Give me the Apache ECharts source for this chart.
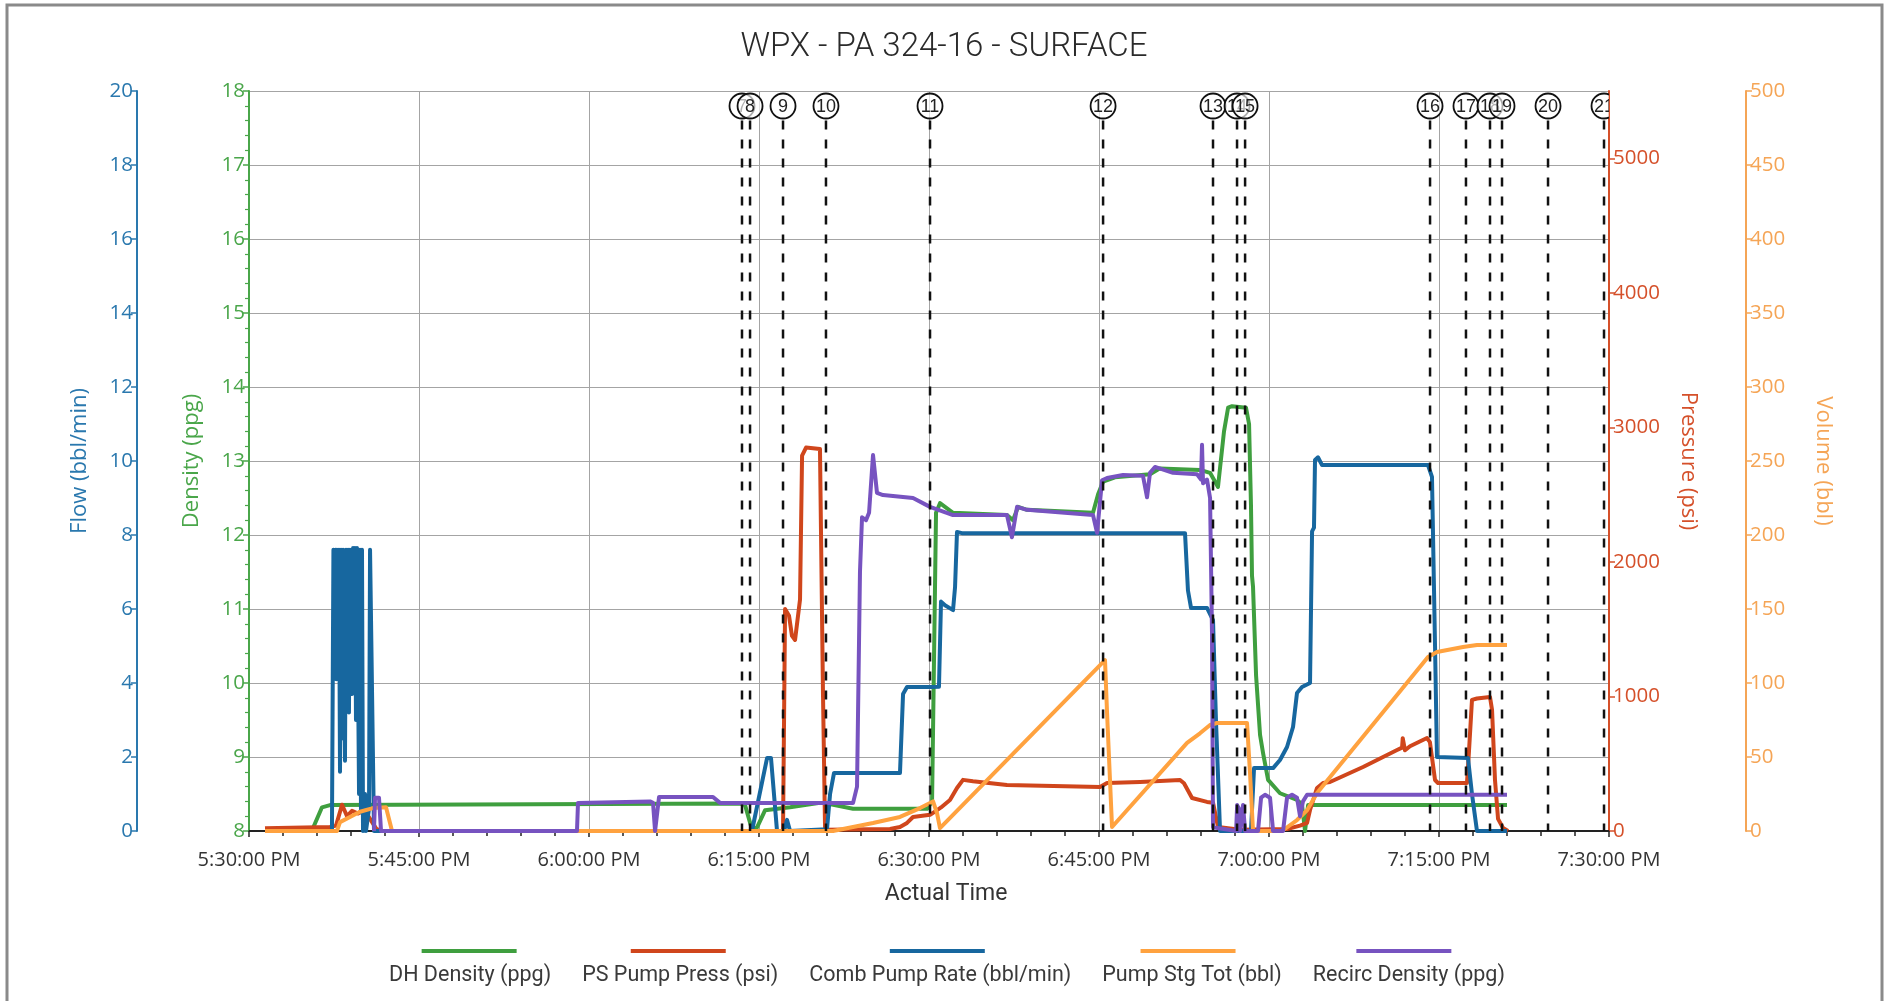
<!DOCTYPE html>
<html>
<head>
<meta charset="utf-8">
<script src="https://cdn.jsdelivr.net/npm/echarts@6/dist/echarts.min.js"></script>
<style>
html,body{margin:0;padding:0;background:#fff;}
#chart{width:1888px;height:1001px;}
</style>
</head>
<body>
<div id="chart"></div>
<script>
// ---------- DATA (x = minutes after 5:30:00 PM) ----------
const xTickLabels = ['5:30:00 PM','5:45:00 PM','6:00:00 PM','6:15:00 PM','6:30:00 PM','6:45:00 PM','7:00:00 PM','7:15:00 PM','7:30:00 PM'];
const seriesNames = ['DH Density (ppg)','PS Pump Press (psi)','Comb Pump Rate (bbl/min)','Pump Stg Tot (bbl)','Recirc Density (ppg)'];
const markerLabels = ['7','8','9','10','11','12','13','14','15','16','17','18','19','20','21'];
const markerTimes  = [43.5,44.21,47.12,50.91,60.09,75.36,85.06,87.18,87.89,104.21,107.38,109.5,110.56,114.62,119.56];

const dhDensity = [
 [5.65,8.04],[6.44,8.32],[7.15,8.35],[43.33,8.37],[43.77,8.35],[44.38,8.02],[44.83,8.05],[45.53,8.28],
 [47.74,8.32],[50.38,8.38],[51.0,8.37],[53.3,8.30],[59.83,8.30],[60.27,8.4],[60.62,12.3],[60.97,12.43],
 [62.12,12.30],[66.88,12.27],[67.41,12.2],[67.86,12.38],[68.65,12.34],[74.47,12.30],[74.92,12.55],
 [75.36,12.72],[76.41,12.78],[79.5,12.82],[80.38,12.9],[83.91,12.88],[84.8,12.84],[85.5,12.65],
 [86.03,13.4],[86.39,13.72],[86.74,13.74],[87.97,13.72],[88.24,13.5],[88.41,12.4],[88.5,11.45],
 [88.59,11.3],[88.86,10.1],[89.21,9.3],[89.48,9.05],[89.92,8.69],[90.97,8.51],[92.47,8.42],
 [92.91,8.36],[93.18,8.0],[93.45,8.35],[111.0,8.35]
];
const psPumpPress = [
 [1.41,20],[7.15,30],[7.68,40],[8.21,195],[8.65,110],[9.09,150],[9.62,130],[10.15,160],[10.68,90],
 [11.21,20],[11.56,0],[47.12,0],[47.3,1650],[47.65,1600],[47.91,1450],[48.18,1420],[48.62,1720],
 [48.8,2790],[49.15,2850],[50.38,2840],[50.65,1000],[50.83,10],[56.56,15],[57.44,30],[58.06,60],
 [58.59,104],[60.09,120],[60.62,150],[61.06,175],[61.85,230],[62.47,320],[63.0,380],[63.88,370],
 [66.88,342],[75.09,327],[75.71,357],[78.62,364],[82.15,379],[82.5,355],[83.21,245],[84.53,216],
 [85.06,210],[85.5,30],[87.45,10],[91.59,15],[92.74,40],[93.36,60],[93.62,156],[94.24,320],
 [94.77,357],[95.38,364],[98.3,476],[101.3,602],[101.74,620],[101.8,690],[102.0,600],[102.44,630],
 [103.94,691],[104.2,660],[104.65,379],[104.91,357],[107.47,357],[107.65,600],[107.91,974],
 [108.35,985],[109.5,996],[109.68,900],[109.94,380],[110.21,90],[110.65,22],[111.09,0]
];
const combPumpRate = [
 [1.41,0],[7.32,0],[7.45,7.6],[7.55,4.3],[7.62,7.6],[7.7,4.1],[7.76,7.6],[7.85,5.5],[7.94,7.6],
 [8.03,1.6],[8.12,7.6],[8.21,2.5],[8.3,7.6],[8.38,7.6],[8.47,1.9],[8.56,7.6],[8.65,5.2],[8.74,7.6],
 [8.82,3.2],[8.91,7.6],[9.0,7.6],[9.09,3.7],[9.18,7.65],[9.27,4.5],[9.35,7.65],[9.44,3.0],[9.53,7.65],
 [9.62,7.6],[9.71,1.0],[9.79,7.6],[9.88,0.5],[9.97,7.6],[10.06,0],[10.24,1.0],[10.32,0],[10.59,0.6],
 [10.68,7.6],[10.85,7.6],[11.03,0],[44.38,0],[45.71,1.97],[46.06,1.97],[46.59,0],[47.21,0],
 [47.47,0.3],[47.74,0],[51.0,0.05],[51.27,1.0],[51.62,1.57],[57.44,1.57],[57.71,3.7],[58.06,3.89],
 [60.18,3.89],[60.88,3.9],[61.06,6.2],[61.41,6.1],[62.12,5.97],[62.3,6.6],[62.47,8.08],[62.91,8.05],
 [82.59,8.05],[82.85,6.5],[83.12,6.03],[84.53,6.03],[85.06,5.7],[85.32,3.0],[85.68,0],[88.41,0],
 [88.68,1.7],[90.36,1.7],[90.97,1.92],[91.59,2.27],[92.12,2.81],[92.47,3.73],[92.91,3.89],[93.62,4.0],
 [93.8,8.1],[93.97,8.2],[94.06,10.03],[94.32,10.1],[94.68,9.89],[104.03,9.89],[104.38,9.57],
 [104.65,5.0],[104.82,2.0],[107.56,1.97],[107.91,1.0],[108.35,0],[111.0,0]
];
const pumpStgTot = [
 [1.41,0],[7.76,0],[8.03,6],[8.91,9.5],[9.79,13],[10.94,15.5],[12.09,16],[12.62,0],[51.53,0],
 [55.06,5.4],[57.44,9.5],[59.21,15.5],[60.09,18.9],[60.36,20],[60.71,12],[60.97,2],[75.53,115.5],
 [75.71,80],[76.15,2.7],[82.77,59.5],[83.91,66],[84.8,71.6],[85.41,73],[88.06,73],[88.32,40],
 [88.59,0],[91.15,0],[92.47,7.4],[93.36,14],[94.24,25.7],[104.03,117.6],[104.82,121],[107.12,124.3],
 [108.35,125.7],[111.0,125.7]
];
const recircDensity = [
 [11.03,8.0],[11.12,8.45],[11.47,8.45],[11.65,8.0],[28.94,8.0],[29.03,8.38],[35.38,8.40],[35.65,8.38],
 [35.83,8.0],[36.0,8.0],[36.18,8.46],[40.94,8.46],[41.56,8.38],[53.3,8.38],[53.65,8.6],[53.91,11.5],
 [54.09,12.24],[54.44,12.2],[54.71,12.3],[55.06,13.08],[55.41,12.57],[55.94,12.54],[58.59,12.50],
 [60.09,12.38],[62.12,12.27],[66.88,12.27],[67.32,11.97],[67.77,12.38],[68.65,12.34],[74.47,12.27],
 [74.83,12.03],[75.27,12.74],[75.71,12.77],[77.12,12.81],[78.88,12.80],[79.24,12.51],[79.5,12.84],
 [79.94,12.92],[81.53,12.84],[83.65,12.82],[84.0,12.75],[84.09,13.22],[84.18,12.7],[84.53,12.75],
 [84.8,12.5],[84.97,10.68],[85.06,8.05],[87.1,8.0],[87.19,8.35],[87.36,8.3],[87.45,8.0],[87.71,8.35],
 [87.89,8.0],[89.03,8.0],[89.3,8.45],[89.65,8.49],[90.09,8.45],[90.36,8.0],[91.24,8.0],[91.59,8.45],
 [92.03,8.49],[92.47,8.45],[92.74,8.2],[93.0,8.4],[93.36,8.49],[111.0,8.49]
];

// ---------- STYLE ----------
const C = {
  green:'#3f9f3f', greenAxis:'#4aa64a',
  red:'#d0461c', redAxis:'#d5502a',
  blue:'#17679f', blueAxis:'#2a78ae',
  orange:'#ffa23f', orangeAxis:'#f5a556',
  purple:'#7753c0'
};
const axisFont = 'Open Sans';
const textFont = 'Roboto';
const legendFontSize = 21.5;

// legend layout: text centered, icon centered above each text
const mctx = document.createElement('canvas').getContext('2d');
mctx.font = legendFontSize + 'px ' + textFont;
const widths = seriesNames.map(n => mctx.measureText(n).width);
const lgGap = 30;
const lgTotal = widths.reduce((a,b)=>a+b,0) + lgGap*(widths.length-1);
let lgCur = 944 - lgTotal/2;
const lgStart = lgCur;
const lgCenters = widths.map(w => { const c = lgCur + w/2; lgCur += w + lgGap; return c; });
const seriesColors = [C.green, C.red, C.blue, C.orange, C.purple];

const iconLegends = seriesNames.map((n,i) => ({
  data:[n], left: lgCenters[i] - 47.5, top: 949, padding:0,
  icon:'rect', itemWidth:95, itemHeight:4,
  formatter: () => '', textStyle:{fontSize:1, lineHeight:4}
}));
const textLegend = {
  data: seriesNames, left: lgStart - 5, top: 963, padding:0,
  itemWidth:0, itemHeight:0, itemGap: lgGap - 5,
  textStyle:{fontFamily:textFont, fontSize:legendFontSize, color:'#3a3a3a', lineHeight:26}
};

function yAxisDef(o){
  return {
    type:'value', position:o.pos, offset:o.offset||0, min:o.min, max:o.max, interval:o.interval,
    name:o.name, nameLocation:'middle', nameGap:o.nameGap, nameRotate:o.nameRotate,
    nameTextStyle:{color:o.color, fontSize:22, fontFamily:axisFont},
    axisLine:{show:true, onZero:false, lineStyle:{color:o.lineColor||o.color, width:2}},
    axisTick:{show:true, length:6, lineStyle:{color:o.lineColor||o.color, width:1.5}},
    minorTick: o.minor ? {show:true, splitNumber:5, length:4, lineStyle:{color:o.lineColor||o.color, width:1.2}} : {show:false},
    axisLabel:{color:o.color, fontSize:20.5, fontFamily:axisFont, margin:4, showMaxLabel: o.showMax !== false,
               formatter: v => String(v)},
    splitLine: o.split ? {show:true, lineStyle:{color:'#a4a4a4', width:1}} : {show:false}
  };
}

const option = {
  animation:false,
  backgroundColor:'#fff',
  title:{
    text:'WPX - PA 324-16 - SURFACE', left:'center', top:26,
    textStyle:{fontFamily:textFont, fontSize:33, fontWeight:300, color:'#2a2a2a'}
  },
  legend:[textLegend, ...iconLegends],
  grid:{left:249, right:279, top:91, bottom:170, containLabel:false},
  xAxis:{
    type:'value', min:0, max:120, interval:15,
    name:'Actual Time', nameLocation:'middle', nameGap:52,
    nameTextStyle:{fontFamily:textFont, fontSize:23, color:'#333', padding:[0,0,0,34]},
    axisLine:{show:true, onZero:false, lineStyle:{color:'#222', width:2}},
    axisTick:{show:true, length:6, lineStyle:{color:'#222', width:1.5}},
    minorTick:{show:true, splitNumber:5, length:5, lineStyle:{color:'#222', width:1.5}},
    axisLabel:{formatter:v => xTickLabels[Math.round(v/15)] || '', color:'#333', fontSize:20, fontFamily:axisFont, margin:19},
    splitLine:{show:true, lineStyle:{color:'#a4a4a4', width:1}}
  },
  yAxis:[
    yAxisDef({pos:'left', min:8, max:18, interval:1, name:'Density (ppg)', nameGap:46, color:C.greenAxis, minor:true, split:true}),
    yAxisDef({pos:'left', offset:112, min:0, max:20, interval:2, name:'Flow (bbl/min)', nameGap:46, color:C.blueAxis}),
    yAxisDef({pos:'right', min:0, max:5500, interval:1000, name:'Pressure (psi)', nameGap:68, nameRotate:-90, color:C.redAxis, showMax:false}),
    yAxisDef({pos:'right', offset:137, min:0, max:500, interval:50, name:'Volume (bbl)', nameGap:66, nameRotate:-90, color:C.orangeAxis})
  ],
  graphic:[{type:'rect', shape:{x:7, y:5, width:1875, height:1020}, style:{fill:'none', stroke:'#8a8a8a', lineWidth:3}, z:-10, silent:true}],
  series:[
    {name:seriesNames[0], type:'line', yAxisIndex:0, data:dhDensity},
    {name:seriesNames[1], type:'line', yAxisIndex:2, data:psPumpPress},
    {name:seriesNames[2], type:'line', yAxisIndex:1, data:combPumpRate},
    {name:seriesNames[3], type:'line', yAxisIndex:3, data:pumpStgTot},
    {name:seriesNames[4], type:'line', yAxisIndex:0, data:recircDensity}
  ].map((s,i) => Object.assign(s, {
    showSymbol:false, symbol:'none', color:seriesColors[i], itemStyle:{color:seriesColors[i]},
    lineStyle:{width:4, color:seriesColors[i], join:'round'}, z:2+i
  })).concat([{
    type:'custom', name:'markers', yAxisIndex:0, clip:true, z:20, silent:true,
    data: markerTimes.map((t,i) => [t, markerLabels[i]]),
    renderItem:(params, api) => {
      const cs = params.coordSys;
      const x = api.coord([api.value(0), 8])[0];
      const cy = cs.y + 15, r = 12.5;
      return {type:'group', children:[
        {type:'line', shape:{x1:x, y1:cy + r + 2, x2:x, y2:cs.y + cs.height}, style:{stroke:'#111', lineWidth:2.5, lineDash:[9,10]}},
        {type:'circle', shape:{cx:x, cy:cy, r:r}, style:{fill:'rgba(255,255,255,0.65)', stroke:'#111', lineWidth:1.8}},
        {type:'text', style:{x:x, y:cy + 1, text:String(api.value(1)), align:'center', verticalAlign:'middle', fontSize:18, fontFamily:'Liberation Sans', fill:'#222'}}
      ]};
    }
  }])
};

const chart = echarts.init(document.getElementById('chart'), null, {renderer:'canvas'});
chart.setOption(option);
</script>
</body>
</html>
